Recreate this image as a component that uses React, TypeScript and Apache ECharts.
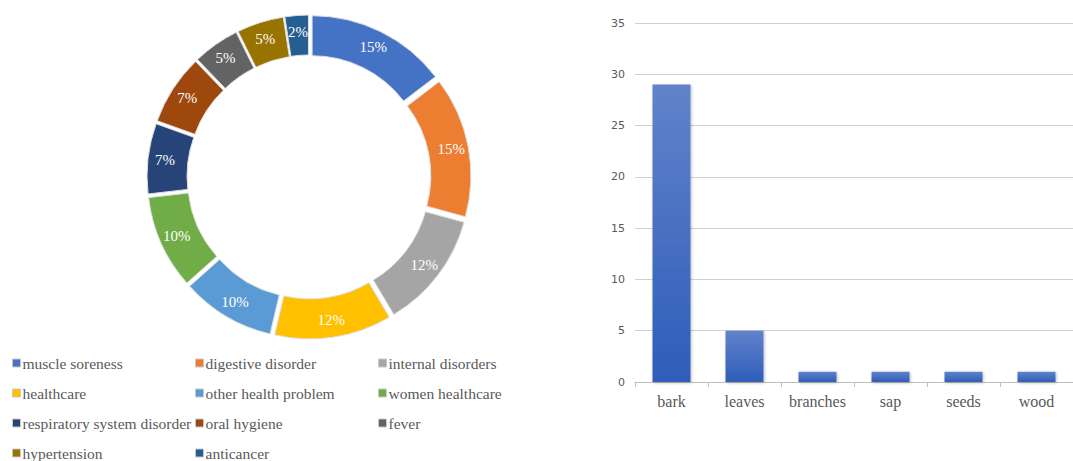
import React, { useEffect, useRef } from "react";
import * as echarts from "echarts";

const pieNames = [
  "muscle soreness",
  "digestive disorder",
  "internal disorders",
  "healthcare",
  "other health problem",
  "women healthcare",
  "respiratory system disorder",
  "oral hygiene",
  "fever",
  "hypertension",
  "anticancer",
];
const pieValues = [6, 6, 5, 5, 4, 4, 3, 3, 2, 2, 1];
const pieColors = [
  "#4472C4",
  "#ED7D31",
  "#A5A5A5",
  "#FFC000",
  "#5B9BD5",
  "#70AD47",
  "#264478",
  "#9E480E",
  "#636363",
  "#997300",
  "#255E91",
];

const legendCol1 = ["muscle soreness", "healthcare", "respiratory system disorder", "hypertension"];
const legendCol2 = ["digestive disorder", "other health problem", "oral hygiene", "anticancer"];
const legendCol3 = ["internal disorders", "women healthcare", "fever"];

const barCategories = ["bark", "leaves", "branches", "sap", "seeds", "wood"];
const barValues = [29, 5, 1, 1, 1, 1];

const serif = "Liberation Serif";

export default function App() {
  const ref = useRef<HTMLDivElement>(null);
  useEffect(() => {
    if (!ref.current) return;
    const chart = echarts.init(ref.current, null, { renderer: "svg" });
    const legendBase = {
      orient: "vertical" as const,
      top: 355,
      height: 300,
      padding: 0,
      itemWidth: 8,
      itemHeight: 8,
      itemGap: 14,
      icon: "rect",
      selectedMode: false,
      itemStyle: { borderColor: "#c8c8c8", borderWidth: 1 },
      textStyle: {
        fontFamily: serif,
        fontSize: 15.5,
        color: "#595959",
        lineHeight: 16,
        padding: [0, 0, 0, -3],
      },
    };
    chart.setOption({
      animation: false,
      color: pieColors,
      textStyle: { fontFamily: serif },
      legend: [
        { ...legendBase, left: 12, data: legendCol1 },
        { ...legendBase, left: 195, data: legendCol2 },
        { ...legendBase, left: 378, data: legendCol3 },
      ],
      grid: {
        left: 635,
        top: 23,
        width: 449,
        height: 359,
        containLabel: false,
      },
      xAxis: {
        type: "category",
        data: barCategories,
        axisLine: { lineStyle: { color: "#bfbfbf", width: 1 } },
        axisTick: { show: true, length: 5, lineStyle: { color: "#bfbfbf" } },
        axisLabel: {
          fontFamily: serif,
          fontSize: 16,
          color: "#595959",
          margin: 11,
          interval: 0,
        },
      },
      yAxis: {
        type: "value",
        min: 0,
        max: 35,
        interval: 5,
        axisLine: { show: false },
        axisTick: { show: false },
        splitLine: { lineStyle: { color: "#d0d0d0", width: 1 } },
        axisLabel: {
          fontFamily: "DejaVu Sans",
          fontSize: 11,
          color: "#595959",
          margin: 10,
        },
      },
      series: [
        {
          type: "pie",
          center: [309, 177],
          radius: [115, 155],
          startAngle: 90,
          selectedMode: "multiple",
          selectedOffset: 7,
          emphasis: { disabled: true },
          itemStyle: { borderColor: "#dedede", borderWidth: 1 },
          label: {
            show: true,
            position: "inside",
            color: "#ffffff",
            fontFamily: serif,
            fontSize: 15,
            formatter: (p: any) => Math.round(p.percent) + "%",
          },
          labelLine: { show: false },
          data: pieNames.map((n, i) => ({
            name: n,
            value: pieValues[i],
            selected: true,
            itemStyle: { color: pieColors[i] },
          })),
        },
        {
          type: "bar",
          data: barValues,
          barWidth: 38,
          itemStyle: {
            color: new echarts.graphic.LinearGradient(0, 0, 0, 1, [
              { offset: 0, color: "#6183CB" },
              { offset: 1, color: "#2E5DB9" },
            ]),
            shadowColor: "rgba(0,0,0,0.25)",
            shadowBlur: 3,
            shadowOffsetX: 1,
            shadowOffsetY: 1,
          },
        },
      ],
    });
    return () => chart.dispose();
  }, []);
  return (
    <div
      ref={ref}
      style={{ position: "fixed", left: 0, top: 0, width: 1073, height: 461, background: "#fff" }}
    />
  );
}
